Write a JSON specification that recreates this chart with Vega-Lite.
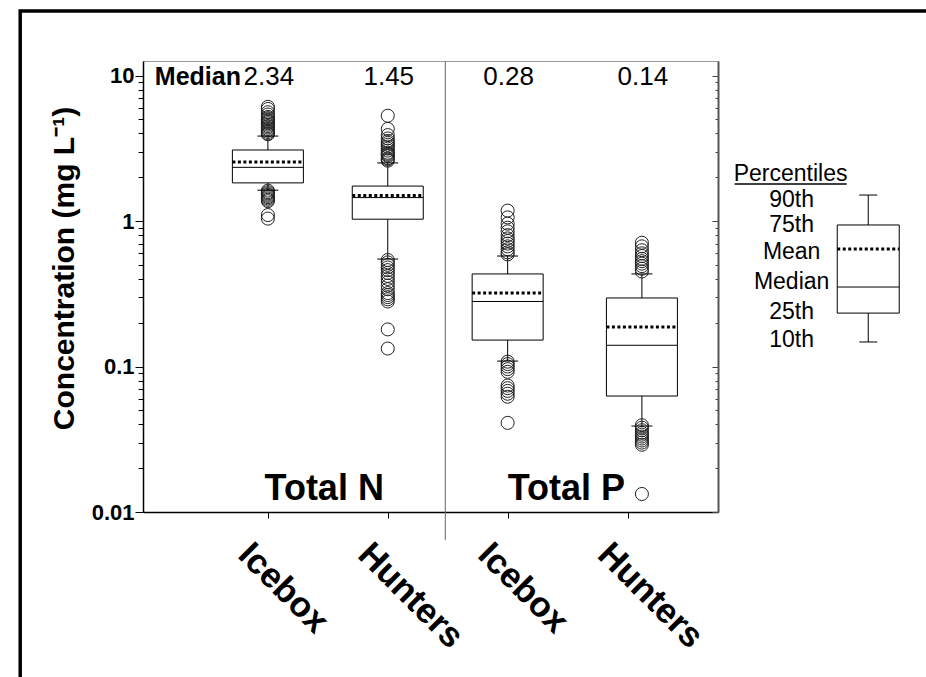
{
  "$schema": "https://vega.github.io/schema/vega-lite/v6.json",
  "width": 575,
  "height": 451,
  "autosize": "none",
  "padding": {"left": 143, "top": 61, "right": 208, "bottom": 165},
  "background": "white",
  "config": {
    "view": {"stroke": "#999999", "strokeWidth": 1},
    "font": "Liberation Sans",
    "text": {"font": "Liberation Sans", "color": "black"}
  },
  "datasets": {
    "boxes": [
      {"nutrient": "Total N", "site": "Icebox", "pos": 1, "p10": 1.63, "p25": 1.83, "median": 2.34, "mean": 2.55, "p75": 3.08, "p90": 3.84},
      {"nutrient": "Total N", "site": "Hunters", "pos": 2, "p10": 0.548, "p25": 1.03, "median": 1.45, "mean": 1.5, "p75": 1.74, "p90": 2.51},
      {"nutrient": "Total P", "site": "Icebox", "pos": 3, "p10": 0.109, "p25": 0.152, "median": 0.28, "mean": 0.32, "p75": 0.433, "p90": 0.575},
      {"nutrient": "Total P", "site": "Hunters", "pos": 4.12, "p10": 0.039, "p25": 0.0627, "median": 0.14, "mean": 0.187, "p75": 0.296, "p90": 0.433}
    ],
    "outliers": [
      {"pos": 1, "value": 6.1}, {"pos": 1, "value": 5.9}, {"pos": 1, "value": 5.6}, {"pos": 1, "value": 5.4}, {"pos": 1, "value": 5.2}, {"pos": 1, "value": 5.1}, {"pos": 1, "value": 5.0}, {"pos": 1, "value": 4.9}, {"pos": 1, "value": 4.8}, {"pos": 1, "value": 4.7}, {"pos": 1, "value": 4.6}, {"pos": 1, "value": 4.5}, {"pos": 1, "value": 4.4}, {"pos": 1, "value": 4.3}, {"pos": 1, "value": 4.2}, {"pos": 1, "value": 4.1}, {"pos": 1, "value": 4.0}, {"pos": 1, "value": 3.95},
      {"pos": 1, "value": 1.62}, {"pos": 1, "value": 1.58}, {"pos": 1, "value": 1.55}, {"pos": 1, "value": 1.52}, {"pos": 1, "value": 1.49}, {"pos": 1, "value": 1.46}, {"pos": 1, "value": 1.43}, {"pos": 1, "value": 1.4}, {"pos": 1, "value": 1.37}, {"pos": 1, "value": 1.1}, {"pos": 1, "value": 1.04},
      {"pos": 2, "value": 5.3}, {"pos": 2, "value": 4.3}, {"pos": 2, "value": 3.9}, {"pos": 2, "value": 3.7}, {"pos": 2, "value": 3.55}, {"pos": 2, "value": 3.45}, {"pos": 2, "value": 3.35}, {"pos": 2, "value": 3.25}, {"pos": 2, "value": 3.15}, {"pos": 2, "value": 3.05}, {"pos": 2, "value": 2.95}, {"pos": 2, "value": 2.9}, {"pos": 2, "value": 2.85}, {"pos": 2, "value": 2.8}, {"pos": 2, "value": 2.7}, {"pos": 2, "value": 2.65}, {"pos": 2, "value": 2.6},
      {"pos": 2, "value": 0.54}, {"pos": 2, "value": 0.52}, {"pos": 2, "value": 0.5}, {"pos": 2, "value": 0.48}, {"pos": 2, "value": 0.46}, {"pos": 2, "value": 0.44}, {"pos": 2, "value": 0.42}, {"pos": 2, "value": 0.4}, {"pos": 2, "value": 0.38}, {"pos": 2, "value": 0.36}, {"pos": 2, "value": 0.34}, {"pos": 2, "value": 0.32}, {"pos": 2, "value": 0.31}, {"pos": 2, "value": 0.3}, {"pos": 2, "value": 0.29}, {"pos": 2, "value": 0.28}, {"pos": 2, "value": 0.18}, {"pos": 2, "value": 0.133},
      {"pos": 3, "value": 1.18}, {"pos": 3, "value": 1.06}, {"pos": 3, "value": 0.96}, {"pos": 3, "value": 0.9}, {"pos": 3, "value": 0.85}, {"pos": 3, "value": 0.8}, {"pos": 3, "value": 0.76}, {"pos": 3, "value": 0.73}, {"pos": 3, "value": 0.7}, {"pos": 3, "value": 0.67}, {"pos": 3, "value": 0.64}, {"pos": 3, "value": 0.61}, {"pos": 3, "value": 0.59},
      {"pos": 3, "value": 0.108}, {"pos": 3, "value": 0.104}, {"pos": 3, "value": 0.1}, {"pos": 3, "value": 0.096}, {"pos": 3, "value": 0.092}, {"pos": 3, "value": 0.074}, {"pos": 3, "value": 0.071}, {"pos": 3, "value": 0.068}, {"pos": 3, "value": 0.065}, {"pos": 3, "value": 0.062}, {"pos": 3, "value": 0.041},
      {"pos": 4.12, "value": 0.71}, {"pos": 4.12, "value": 0.67}, {"pos": 4.12, "value": 0.63}, {"pos": 4.12, "value": 0.6}, {"pos": 4.12, "value": 0.575}, {"pos": 4.12, "value": 0.55}, {"pos": 4.12, "value": 0.53}, {"pos": 4.12, "value": 0.51}, {"pos": 4.12, "value": 0.49}, {"pos": 4.12, "value": 0.47}, {"pos": 4.12, "value": 0.45},
      {"pos": 4.12, "value": 0.0395}, {"pos": 4.12, "value": 0.038}, {"pos": 4.12, "value": 0.0365}, {"pos": 4.12, "value": 0.035}, {"pos": 4.12, "value": 0.034}, {"pos": 4.12, "value": 0.033}, {"pos": 4.12, "value": 0.032}, {"pos": 4.12, "value": 0.031}, {"pos": 4.12, "value": 0.03}, {"pos": 4.12, "value": 0.029}, {"pos": 4.12, "value": 0.0133}
    ],
    "legendBox": [
      {"p10": 0.1475, "p25": 0.233, "median": 0.352, "mean": 0.643, "p75": 0.94, "p90": 1.51}
    ],
    "legendLabels": [
      {"label": "90th", "v": 1.395},
      {"label": "75th", "v": 0.94},
      {"label": "Mean", "v": 0.612},
      {"label": "Median", "v": 0.381},
      {"label": "25th", "v": 0.237},
      {"label": "10th", "v": 0.152}
    ],
    "groups": [
      {"label": "Total N", "center": 1.47},
      {"label": "Total P", "center": 3.49}
    ],
    "one": [{}]
  },
  "resolve": {"axis": {"y": "independent"}},
  "layer": [
    {
      "data": {"name": "boxes"},
      "mark": {"type": "rule", "stroke": "black", "strokeWidth": 1},
      "encoding": {
        "x": {
          "field": "pos", "type": "quantitative",
          "scale": {"type": "linear", "domain": [0, 4.713], "nice": false, "zero": false},
          "axis": {
            "orient": "bottom",
            "values": [1, 2, 3, 4],
            "labelExpr": "datum.value == 1 || datum.value == 3 ? 'Icebox' : 'Hunters'",
            "title": null, "grid": false,
            "domainColor": "black", "domainWidth": 1.5,
            "tickColor": "black", "tickSize": 6, "tickWidth": 1,
            "labelFont": "Liberation Sans", "labelFontSize": 35, "labelFontWeight": "bold", "labelColor": "black",
            "labelAngle": 45, "labelAlign": "left", "labelBaseline": "alphabetic",
            "labelOffset": -32, "labelPadding": 38,
            "labelOverlap": false, "labelFlush": false, "labelBound": false
          }
        },
        "y": {
          "field": "p10", "type": "quantitative",
          "scale": {"type": "log", "domain": [0.01, 12.6], "nice": false},
          "axis": {
            "orient": "left",
            "values": [0.01, 0.02, 0.03, 0.04, 0.05, 0.06, 0.07, 0.08, 0.09, 0.1, 0.2, 0.3, 0.4, 0.5, 0.6, 0.7, 0.8, 0.9, 1, 2, 3, 4, 5, 6, 7, 8, 9, 10],
            "labelExpr": "abs(log(datum.value)/LN10 - round(log(datum.value)/LN10)) < 0.001 ? format(datum.value, '~g') : ''",
            "tickSize": {"condition": {"test": "abs(log(datum.value)/LN10 - round(log(datum.value)/LN10)) < 0.001", "value": 8}, "value": 5},
            "tickColor": "black", "tickWidth": 1,
            "domainColor": "black", "domainWidth": 1.5,
            "grid": false,
            "labelFont": "Liberation Sans", "labelFontSize": 22, "labelFontWeight": "bold", "labelColor": "black",
            "labelPadding": 1, "labelOverlap": false, "labelFlush": false,
            "title": "Concentration (mg L⁻¹)",
            "titleFont": "Liberation Sans", "titleFontSize": 30, "titleFontWeight": "bold", "titleColor": "black",
            "titlePadding": 12, "titleY": 207
          }
        },
        "y2": {"field": "p90"}
      }
    },
    {
      "data": {"name": "one"},
      "mark": {"type": "rect", "fillOpacity": 0, "stroke": "black", "strokeWidth": 3.5},
      "encoding": {
        "x": {"datum": -1.066, "type": "quantitative", "scale": {"type": "linear", "domain": [0, 4.713], "nice": false, "zero": false}},
        "x2": {"datum": 7},
        "y": {"datum": 27.8, "type": "quantitative", "scale": {"type": "log", "domain": [0.01, 12.6], "nice": false}, "axis": null},
        "y2": {"datum": 0.00001}
      }
    },
    {
      "data": {"name": "boxes"},
      "mark": {"type": "bar", "width": 71, "fill": "white", "stroke": "black", "strokeWidth": 1},
      "encoding": {
        "x": {"field": "pos", "type": "quantitative", "scale": {"type": "linear", "domain": [0, 4.713], "nice": false, "zero": false}},
        "y": {
          "field": "p25", "type": "quantitative",
          "scale": {"type": "log", "domain": [0.01, 12.6], "nice": false},
          "axis": {
            "orient": "right",
            "values": [0.01, 0.02, 0.03, 0.04, 0.05, 0.06, 0.07, 0.08, 0.09, 0.1, 0.2, 0.3, 0.4, 0.5, 0.6, 0.7, 0.8, 0.9, 1, 2, 3, 4, 5, 6, 7, 8, 9, 10],
            "labels": false,
            "tickSize": {"condition": {"test": "abs(log(datum.value)/LN10 - round(log(datum.value)/LN10)) < 0.001", "value": -6}, "value": -3},
            "tickColor": "#444444", "tickWidth": 1,
            "domainColor": "#555555", "domainWidth": 2,
            "grid": false, "title": null
          }
        },
        "y2": {"field": "p75"}
      }
    },
    {
      "data": {"name": "one"},
      "mark": {"type": "rule", "stroke": "#666666", "strokeWidth": 1},
      "encoding": {
        "x": {"datum": 2.48, "type": "quantitative", "scale": {"type": "linear", "domain": [0, 4.713], "nice": false, "zero": false}},
        "y": {"datum": 12.6, "type": "quantitative", "scale": {"type": "log", "domain": [0.01, 12.6], "nice": false}, "axis": null},
        "y2": {"datum": 0.0064}
      }
    },
    {
      "data": {"name": "outliers"},
      "mark": {"type": "point", "shape": "circle", "size": 170, "filled": false, "stroke": "#222222", "strokeWidth": 1, "opacity": 1},
      "encoding": {
        "x": {"field": "pos", "type": "quantitative", "scale": {"type": "linear", "domain": [0, 4.713], "nice": false, "zero": false}},
        "y": {"field": "value", "type": "quantitative", "scale": {"type": "log", "domain": [0.01, 12.6], "nice": false}, "axis": null}
      }
    },
    {
      "data": {"name": "boxes"},
      "mark": {"type": "point", "shape": "M-1,0H1", "size": 441, "filled": false, "stroke": "black", "strokeWidth": 1, "opacity": 1},
      "encoding": {
        "x": {"field": "pos", "type": "quantitative", "scale": {"type": "linear", "domain": [0, 4.713], "nice": false, "zero": false}},
        "y": {"field": "p90", "type": "quantitative", "scale": {"type": "log", "domain": [0.01, 12.6], "nice": false}, "axis": null}
      }
    },
    {
      "data": {"name": "boxes"},
      "mark": {"type": "point", "shape": "M-1,0H1", "size": 441, "filled": false, "stroke": "black", "strokeWidth": 1, "opacity": 1},
      "encoding": {
        "x": {"field": "pos", "type": "quantitative", "scale": {"type": "linear", "domain": [0, 4.713], "nice": false, "zero": false}},
        "y": {"field": "p10", "type": "quantitative", "scale": {"type": "log", "domain": [0.01, 12.6], "nice": false}, "axis": null}
      }
    },
    {
      "data": {"name": "boxes"},
      "mark": {"type": "point", "shape": "M-1,0H1", "size": 5041, "filled": false, "stroke": "black", "strokeWidth": 1, "opacity": 1},
      "encoding": {
        "x": {"field": "pos", "type": "quantitative", "scale": {"type": "linear", "domain": [0, 4.713], "nice": false, "zero": false}},
        "y": {"field": "median", "type": "quantitative", "scale": {"type": "log", "domain": [0.01, 12.6], "nice": false}, "axis": null}
      }
    },
    {
      "data": {"name": "boxes"},
      "mark": {"type": "point", "shape": "M-1,0H1", "size": 5041, "filled": false, "stroke": "black", "strokeWidth": 3, "strokeDash": [3, 2.5], "opacity": 1},
      "encoding": {
        "x": {"field": "pos", "type": "quantitative", "scale": {"type": "linear", "domain": [0, 4.713], "nice": false, "zero": false}},
        "y": {"field": "mean", "type": "quantitative", "scale": {"type": "log", "domain": [0.01, 12.6], "nice": false}, "axis": null}
      }
    },
    {
      "data": {"name": "boxes"},
      "mark": {"type": "text", "font": "Liberation Sans", "fontSize": 26, "align": "center", "baseline": "alphabetic", "dx": 1, "color": "black"},
      "encoding": {
        "x": {"field": "pos", "type": "quantitative", "scale": {"type": "linear", "domain": [0, 4.713], "nice": false, "zero": false}},
        "y": {"datum": 8.6, "type": "quantitative", "scale": {"type": "log", "domain": [0.01, 12.6], "nice": false}, "axis": null},
        "text": {"field": "median", "type": "quantitative", "format": ".2f"}
      }
    },
    {
      "data": {"name": "one"},
      "mark": {"type": "text", "text": "Median", "font": "Liberation Sans", "fontSize": 25, "fontWeight": "bold", "align": "left", "baseline": "alphabetic", "color": "black"},
      "encoding": {
        "x": {"datum": 0.057, "type": "quantitative", "scale": {"type": "linear", "domain": [0, 4.713], "nice": false, "zero": false}},
        "y": {"datum": 8.6, "type": "quantitative", "scale": {"type": "log", "domain": [0.01, 12.6], "nice": false}, "axis": null}
      }
    },
    {
      "data": {"name": "groups"},
      "mark": {"type": "text", "font": "Liberation Sans", "fontSize": 36, "fontWeight": "bold", "align": "center", "baseline": "alphabetic", "color": "black"},
      "encoding": {
        "x": {"field": "center", "type": "quantitative", "scale": {"type": "linear", "domain": [0, 4.713], "nice": false, "zero": false}},
        "y": {"datum": 0.0121, "type": "quantitative", "scale": {"type": "log", "domain": [0.01, 12.6], "nice": false}, "axis": null},
        "text": {"field": "label", "type": "nominal"}
      }
    },
    {
      "data": {"name": "legendBox"},
      "mark": {"type": "rule", "stroke": "black", "strokeWidth": 1},
      "encoding": {
        "x": {"datum": 6.008, "type": "quantitative", "scale": {"type": "linear", "domain": [0, 4.713], "nice": false, "zero": false}},
        "y": {"field": "p10", "type": "quantitative", "scale": {"type": "log", "domain": [0.01, 12.6], "nice": false}, "axis": null},
        "y2": {"field": "p90"}
      }
    },
    {
      "data": {"name": "legendBox"},
      "mark": {"type": "bar", "width": 62, "fill": "white", "stroke": "black", "strokeWidth": 1},
      "encoding": {
        "x": {"datum": 6.008, "type": "quantitative", "scale": {"type": "linear", "domain": [0, 4.713], "nice": false, "zero": false}},
        "y": {"field": "p25", "type": "quantitative", "scale": {"type": "log", "domain": [0.01, 12.6], "nice": false}, "axis": null},
        "y2": {"field": "p75"}
      }
    },
    {
      "data": {"name": "legendBox"},
      "mark": {"type": "point", "shape": "M-1,0H1", "size": 324, "filled": false, "stroke": "black", "strokeWidth": 1, "opacity": 1},
      "encoding": {
        "x": {"datum": 6.008, "type": "quantitative", "scale": {"type": "linear", "domain": [0, 4.713], "nice": false, "zero": false}},
        "y": {"field": "p90", "type": "quantitative", "scale": {"type": "log", "domain": [0.01, 12.6], "nice": false}, "axis": null}
      }
    },
    {
      "data": {"name": "legendBox"},
      "mark": {"type": "point", "shape": "M-1,0H1", "size": 324, "filled": false, "stroke": "black", "strokeWidth": 1, "opacity": 1},
      "encoding": {
        "x": {"datum": 6.008, "type": "quantitative", "scale": {"type": "linear", "domain": [0, 4.713], "nice": false, "zero": false}},
        "y": {"field": "p10", "type": "quantitative", "scale": {"type": "log", "domain": [0.01, 12.6], "nice": false}, "axis": null}
      }
    },
    {
      "data": {"name": "legendBox"},
      "mark": {"type": "point", "shape": "M-1,0H1", "size": 3844, "filled": false, "stroke": "black", "strokeWidth": 1, "opacity": 1},
      "encoding": {
        "x": {"datum": 6.008, "type": "quantitative", "scale": {"type": "linear", "domain": [0, 4.713], "nice": false, "zero": false}},
        "y": {"field": "median", "type": "quantitative", "scale": {"type": "log", "domain": [0.01, 12.6], "nice": false}, "axis": null}
      }
    },
    {
      "data": {"name": "legendBox"},
      "mark": {"type": "point", "shape": "M-1,0H1", "size": 3844, "filled": false, "stroke": "black", "strokeWidth": 3, "strokeDash": [3, 2.5], "opacity": 1},
      "encoding": {
        "x": {"datum": 6.008, "type": "quantitative", "scale": {"type": "linear", "domain": [0, 4.713], "nice": false, "zero": false}},
        "y": {"field": "mean", "type": "quantitative", "scale": {"type": "log", "domain": [0.01, 12.6], "nice": false}, "axis": null}
      }
    },
    {
      "data": {"name": "legendLabels"},
      "mark": {"type": "text", "font": "Liberation Sans", "fontSize": 23, "align": "center", "baseline": "middle", "color": "black"},
      "encoding": {
        "x": {"datum": 5.369, "type": "quantitative", "scale": {"type": "linear", "domain": [0, 4.713], "nice": false, "zero": false}},
        "y": {"field": "v", "type": "quantitative", "scale": {"type": "log", "domain": [0.01, 12.6], "nice": false}, "axis": null},
        "text": {"field": "label", "type": "nominal"}
      }
    },
    {
      "data": {"name": "one"},
      "mark": {"type": "text", "text": "Percentiles", "font": "Liberation Sans", "fontSize": 23, "align": "center", "baseline": "alphabetic", "color": "black"},
      "encoding": {
        "x": {"datum": 5.36, "type": "quantitative", "scale": {"type": "linear", "domain": [0, 4.713], "nice": false, "zero": false}},
        "y": {"datum": 1.885, "type": "quantitative", "scale": {"type": "log", "domain": [0.01, 12.6], "nice": false}, "axis": null}
      }
    },
    {
      "data": {"name": "one"},
      "mark": {"type": "rule", "stroke": "black", "strokeWidth": 1.5},
      "encoding": {
        "x": {"datum": 4.893, "type": "quantitative", "scale": {"type": "linear", "domain": [0, 4.713], "nice": false, "zero": false}},
        "x2": {"datum": 5.828},
        "y": {"datum": 1.8, "type": "quantitative", "scale": {"type": "log", "domain": [0.01, 12.6], "nice": false}, "axis": null}
      }
    }
  ]
}
